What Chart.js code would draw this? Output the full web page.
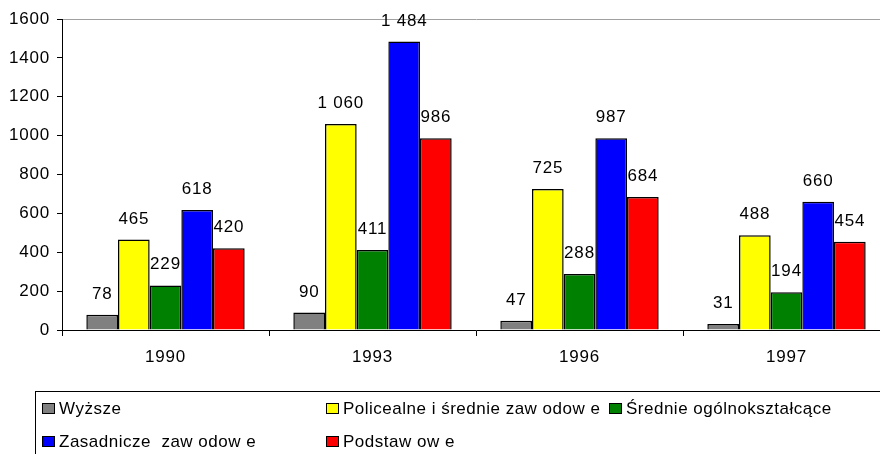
<!DOCTYPE html>
<html>
<head>
<meta charset="utf-8">
<script src="https://cdn.jsdelivr.net/npm/chart.js@4.4.1/dist/chart.umd.min.js"></script>
<style>
  html, body { margin: 0; padding: 0; background: #fff; overflow: hidden; }
  #wrap { width: 892px; height: 454px; }
</style>
</head>
<body>
<div id="wrap"><canvas id="chart" width="892" height="454"></canvas></div>
<script>
const categories = ['1990', '1993', '1996', '1997'];

const wyzsze     = [78, 90, 47, 31];
const policealne = [465, 1060, 725, 488];
const srednie    = [229, 411, 288, 194];
const zasadnicze = [618, 1484, 987, 660];
const podstawowe = [420, 986, 684, 454];

const seriesNames = [
  'Wyższe',
  'Policealne i średnie zaw odow e',
  'Średnie ogólnokształcące',
  'Zasadnicze  zaw odow e',
  'Podstaw ow e'
];
const seriesColors = ['#808080', '#ffff00', '#008000', '#0000ff', '#ff0000'];

const yTicks = [0, 200, 400, 600, 800, 1000, 1200, 1400, 1600];

const FONT = '"Liberation Sans", Arial, sans-serif';
const SPACING = '0.8px';
const LEGEND_SPACING = '0.5px';

// legend slots: square left edge, text baseline
const legendSlots = [[42, 413.5], [326, 413.5], [609, 413.5], [42, 446.5], [326, 446.5]];

function spaced(n) {
  return String(n).replace(/\B(?=(\d{3})+(?!\d))/g, ' ');
}

const letterSpacing = {
  id: 'letterSpacing',
  beforeUpdate(chart) { chart.ctx.letterSpacing = SPACING; },
  beforeDraw(chart) { chart.ctx.letterSpacing = SPACING; }
};

const valueLabels = {
  id: 'valueLabels',
  afterDatasetsDraw(chart) {
    const ctx = chart.ctx;
    ctx.save();
    ctx.font = '17px ' + FONT;
    ctx.fillStyle = '#000';
    ctx.textAlign = 'center';
    ctx.textBaseline = 'alphabetic';
    chart.data.datasets.forEach((ds, i) => {
      chart.getDatasetMeta(i).data.forEach((bar, j) => {
        ctx.fillText(spaced(ds.data[j]), bar.x, bar.y - 16);
      });
    });
    ctx.restore();
  }
};

const boxLegend = {
  id: 'boxLegend',
  afterDraw(chart) {
    const ctx = chart.ctx;
    ctx.save();
    ctx.letterSpacing = LEGEND_SPACING;
    ctx.lineWidth = 1;
    ctx.strokeStyle = '#000';
    ctx.strokeRect(35.5, 391.5, 1000, 100);
    ctx.font = '17px ' + FONT;
    ctx.textAlign = 'left';
    ctx.textBaseline = 'alphabetic';
    chart.data.datasets.forEach((ds, i) => {
      const [x, y] = legendSlots[i];
      const top = Math.round(y) - 11;
      ctx.fillStyle = ds.backgroundColor;
      ctx.fillRect(x, top, 13, 11);
      ctx.strokeStyle = '#000';
      ctx.strokeRect(x + 0.5, top + 0.5, 12, 10);
      ctx.fillStyle = '#000';
      ctx.fillText(ds.label, x + 17, y);
    });
    ctx.restore();
  }
};

const seriesData = [wyzsze, policealne, srednie, zasadnicze, podstawowe];

new Chart(document.getElementById('chart'), {
  type: 'bar',
  data: {
    labels: categories,
    datasets: seriesData.map((d, i) => ({
      label: seriesNames[i],
      data: d,
      backgroundColor: seriesColors[i],
      borderColor: '#000',
      borderWidth: 1.5,
      barPercentage: 1,
      categoryPercentage: 0.765
    }))
  },
  options: {
    responsive: false,
    animation: false,
    devicePixelRatio: 1,
    layout: { padding: { top: 19, right: 2, bottom: 84, left: 0 } },
    plugins: { legend: { display: false }, tooltip: { enabled: false } },
    scales: {
      x: {
        grid: { offset: true, drawOnChartArea: false, tickLength: 6, tickColor: '#000', color: '#000' },
        border: { color: '#000', width: 1 },
        ticks: { color: '#000', font: { family: FONT, size: 17 }, padding: 11, maxRotation: 0 },
        afterFit(scale) { scale.height = 40; }
      },
      y: {
        min: 0,
        max: 1600,
        afterBuildTicks(scale) { scale.ticks = yTicks.map(v => ({ value: v })); },
        ticks: { color: '#000', font: { family: FONT, size: 17 }, padding: 7, callback: v => String(v) },
        grid: {
          color: c => (c.tick && c.tick.value === 1600) ? '#a0a0a0' : 'rgba(0,0,0,0)',
          tickColor: '#000',
          tickLength: 5
        },
        border: { color: '#000', width: 1 },
        afterFit(scale) { scale.width = 62; }
      }
    }
  },
  plugins: [letterSpacing, valueLabels, boxLegend]
});
</script>
</body>
</html>
